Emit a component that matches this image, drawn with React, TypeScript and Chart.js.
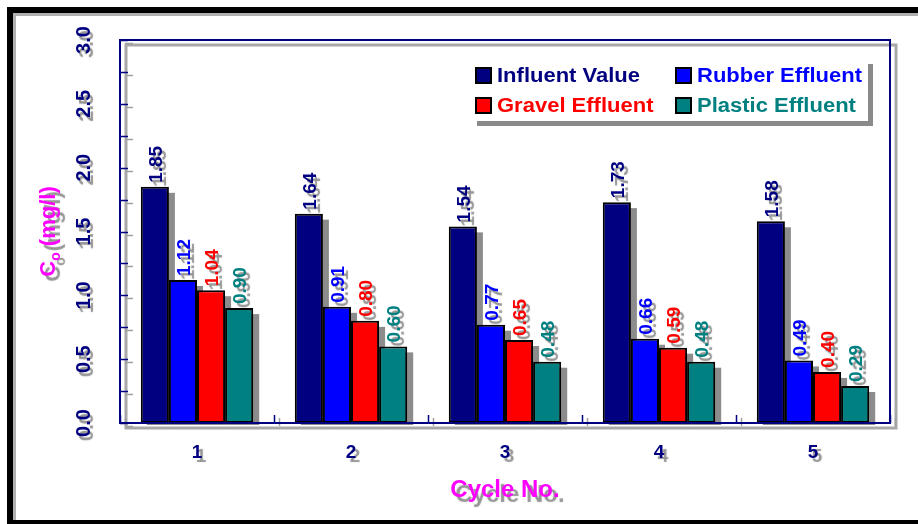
import React, { useEffect, useRef } from "react";
import { Chart, registerables } from "chart.js";

Chart.register(...registerables);

const cycles = ["1", "2", "3", "4", "5"];
const seriesNames = ["Influent Value", "Rubber Effluent", "Gravel Effluent", "Plastic Effluent"];
const influent = [1.85, 1.64, 1.54, 1.73, 1.58];
const rubber = [1.12, 0.91, 0.77, 0.66, 0.49];
const gravel = [1.04, 0.8, 0.65, 0.59, 0.4];
const plastic = [0.9, 0.6, 0.48, 0.48, 0.29];
const yTickValues = [0, 0.5, 1.0, 1.5, 2.0, 2.5, 3.0];
const yTickLabels = ["0.0", "0.5", "1.0", "1.5", "2.0", "2.5", "3.0"];
const yMinorStep = 0.25;

const colors = ["#000080", "#0000FF", "#FF0000", "#008080"];
const NAVY = "#000080";
const MAGENTA = "#FF00FF";
const FONT = "'Liberation Sans', Arial, sans-serif";

function withTextShadow(ctx: CanvasRenderingContext2D, dx = 4, dy = 4) {
  ctx.shadowColor = "rgba(90,90,90,0.65)";
  ctx.shadowOffsetX = dx;
  ctx.shadowOffsetY = dy;
  ctx.shadowBlur = 1;
}

const decorPlugin = {
  id: "decor",
  beforeDraw(chart: any) {
    const ctx = chart.ctx as CanvasRenderingContext2D;
    const { width, height } = chart;
    ctx.save();
    ctx.fillStyle = "#ffffff";
    ctx.fillRect(0, 0, width, height);
    // outer frame: grey inner shade on top and left
    ctx.strokeStyle = "#b0b0b0";
    ctx.lineWidth = 3;
    ctx.beginPath();
    ctx.moveTo(14.5, height);
    ctx.lineTo(14.5, 14.5);
    ctx.lineTo(width, 14.5);
    ctx.stroke();
    ctx.strokeStyle = "#000000";
    ctx.lineWidth = 6;
    ctx.strokeRect(10, 10, width + 40, height - 11);
    ctx.restore();
  },
  beforeDatasetsDraw(chart: any) {
    const ctx = chart.ctx as CanvasRenderingContext2D;
    const a = chart.chartArea;
    const ys = chart.scales.y;
    const xs = chart.scales.x;
    ctx.save();
    // plot frame shadow
    ctx.strokeStyle = "#a8a8a8";
    ctx.lineWidth = 3;
    ctx.strokeRect(a.left + 6, a.top + 5, a.right - a.left, a.bottom - a.top);
    ctx.strokeStyle = NAVY;
    ctx.lineWidth = 2;
    ctx.strokeRect(a.left, a.top, a.right - a.left, a.bottom - a.top);
    // y ticks (inside)
    for (let v = 0; v <= ys.max + 1e-9; v += yMinorStep) {
      const py = Math.round(ys.getPixelForValue(v)) + 0.5;
      ctx.strokeStyle = "#a0a0a0";
      ctx.lineWidth = 1.5;
      ctx.beginPath();
      ctx.moveTo(a.left + 5, py + 3);
      ctx.lineTo(a.left + 13, py + 3);
      ctx.stroke();
      ctx.strokeStyle = NAVY;
      ctx.lineWidth = 1.5;
      ctx.beginPath();
      ctx.moveTo(a.left, py);
      ctx.lineTo(a.left + 8, py);
      ctx.stroke();
    }
    // x ticks at category boundaries
    for (let i = 0; i <= cycles.length; i++) {
      const px = Math.round(xs.getPixelForValue(i - 0.5)) + 0.5;
      ctx.strokeStyle = "#a0a0a0";
      ctx.beginPath();
      ctx.moveTo(px + 5, a.bottom + 3);
      ctx.lineTo(px + 5, a.bottom - 5);
      ctx.stroke();
      ctx.strokeStyle = NAVY;
      ctx.beginPath();
      ctx.moveTo(px, a.bottom);
      ctx.lineTo(px, a.bottom - 8);
      ctx.stroke();
    }
    // bar shadows
    ctx.fillStyle = "#8c8c8c";
    chart.data.datasets.forEach((_: any, di: number) => {
      const meta = chart.getDatasetMeta(di);
      meta.data.forEach((bar: any) => {
        const w = bar.width;
        const left = bar.x - w / 2 + 6;
        const top = bar.y + 6;
        ctx.fillRect(left, top, w, bar.base - top + 2);
      });
    });
    ctx.restore();
  },
  afterDatasetsDraw(chart: any) {
    const ctx = chart.ctx as CanvasRenderingContext2D;
    const a = chart.chartArea;
    ctx.save();
    ctx.strokeStyle = NAVY;
    ctx.lineWidth = 2;
    ctx.beginPath();
    ctx.moveTo(a.left, a.bottom);
    ctx.lineTo(a.right, a.bottom);
    ctx.stroke();
    // data labels
    ctx.font = `bold 19px ${FONT}`;
    ctx.textAlign = "left";
    ctx.textBaseline = "middle";
    chart.data.datasets.forEach((ds: any, di: number) => {
      const meta = chart.getDatasetMeta(di);
      meta.data.forEach((bar: any, i: number) => {
        const val = ds.data[i] as number;
        ctx.save();
        withTextShadow(ctx, 4, 4);
        ctx.translate(bar.x + 2, bar.y - 4);
        ctx.rotate(-Math.PI / 2);
        ctx.fillStyle = colors[di];
        ctx.fillText(val.toFixed(2), 0, 0);
        ctx.restore();
      });
    });
    ctx.restore();
  },
  afterDraw(chart: any) {
    const ctx = chart.ctx as CanvasRenderingContext2D;
    const a = chart.chartArea;
    const ys = chart.scales.y;
    const xs = chart.scales.x;
    ctx.save();
    // y tick labels
    ctx.font = `bold 20px ${FONT}`;
    ctx.textAlign = "center";
    ctx.textBaseline = "middle";
    yTickValues.forEach((v, i) => {
      const py = ys.getPixelForValue(v);
      ctx.save();
      withTextShadow(ctx, 3, 4);
      ctx.translate(a.left - 36, py);
      ctx.rotate(-Math.PI / 2);
      ctx.fillStyle = NAVY;
      ctx.fillText(yTickLabels[i], 0, 0);
      ctx.restore();
    });
    // x tick labels
    ctx.font = `bold 19px ${FONT}`;
    cycles.forEach((c, i) => {
      const px = xs.getPixelForValue(i);
      ctx.save();
      withTextShadow(ctx, 4, 4);
      ctx.fillStyle = NAVY;
      ctx.fillText(c, px, a.bottom + 30);
      ctx.restore();
    });
    // x title
    ctx.save();
    ctx.font = `bold 24px ${FONT}`;
    withTextShadow(ctx, 5, 5);
    ctx.fillStyle = MAGENTA;
    ctx.fillText("Cycle No.", (a.left + a.right) / 2, a.bottom + 67);
    ctx.restore();
    // y title: C subscript o (mg/l)
    ctx.save();
    ctx.translate(a.left - 73, (a.top + a.bottom) / 2);
    ctx.rotate(-Math.PI / 2);
    withTextShadow(ctx, 5, 5);
    ctx.fillStyle = MAGENTA;
    ctx.textBaseline = "alphabetic";
    ctx.textAlign = "left";
    const big = `bold 22px ${FONT}`;
    const small = `bold 14px ${FONT}`;
    ctx.font = big;
    const wC = ctx.measureText("C").width;
    ctx.font = small;
    const wo = ctx.measureText("o").width;
    ctx.font = big;
    const wRest = ctx.measureText(" (mg/l)").width;
    const total = wC + wo + wRest;
    const x0 = -total / 2;
    const base = 8;
    ctx.fillText("C", x0, base);
    ctx.font = small;
    ctx.fillText("o", x0 + wC, base + 5);
    ctx.font = big;
    ctx.fillText(" (mg/l)", x0 + wC + wo, base);
    ctx.restore();
    // legend
    const lx = 472, ly = 59, lw = 396, lh = 62;
    ctx.save();
    ctx.fillStyle = "#8a8a8a";
    ctx.fillRect(lx + 5, ly + 5, lw, lh);
    ctx.fillStyle = "#ffffff";
    ctx.fillRect(lx, ly, lw, lh);
    const cols = [476, 676];
    const rows = [75, 105];
    ctx.font = `bold 20px ${FONT}`;
    ctx.textAlign = "left";
    ctx.textBaseline = "middle";
    seriesNames.forEach((name, i) => {
      const cx = cols[i % 2];
      const cy = rows[Math.floor(i / 2)];
      ctx.fillStyle = colors[i];
      ctx.fillRect(cx, cy - 7, 15, 15);
      ctx.strokeStyle = "#000";
      ctx.lineWidth = 2;
      ctx.strokeRect(cx, cy - 7, 15, 15);
      ctx.save();
      ctx.translate(cx + 21, cy + 1);
      ctx.scale(1.1, 1);
      ctx.fillText(name, 0, 0);
      ctx.restore();
    });
    ctx.restore();
    ctx.restore();
  },
};

export default function App() {
  const ref = useRef<HTMLCanvasElement | null>(null);
  useEffect(() => {
    if (!ref.current) return;
    const chart = new Chart(ref.current, {
      type: "bar",
      data: {
        labels: cycles,
        datasets: [influent, rubber, gravel, plastic].map((d, i) => ({
          label: seriesNames[i],
          data: d,
          backgroundColor: colors[i],
          borderColor: "#000000",
          borderWidth: 2,
          borderSkipped: false,
          categoryPercentage: 0.73,
          barPercentage: 1.0,
        })),
      },
      options: {
        responsive: false,
        animation: false,
        devicePixelRatio: 1,
        layout: { padding: { left: 120, top: 40, right: 28, bottom: 101 } },
        plugins: { legend: { display: false }, tooltip: { enabled: false }, title: { display: false } },
        scales: {
          x: { display: false, offset: true },
          y: { display: false, min: 0, max: 3 },
        },
      },
      plugins: [decorPlugin],
    });
    return () => chart.destroy();
  }, []);
  return (
    <div style={{ position: "fixed", left: 0, top: 0, width: 918, height: 524, background: "#fff" }}>
      <canvas ref={ref} width={918} height={524} style={{ display: "block" }} />
    </div>
  );
}
